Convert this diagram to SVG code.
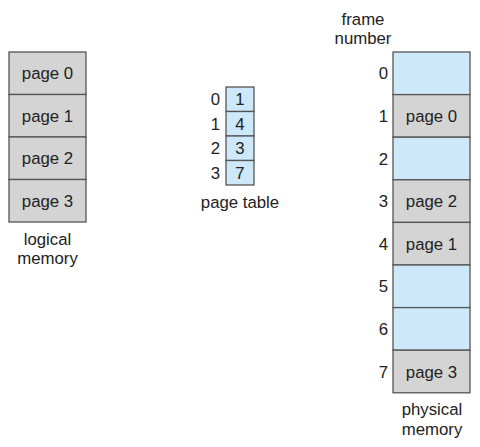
<svg xmlns="http://www.w3.org/2000/svg" width="480" height="447" viewBox="0 0 480 447">
<style>
text{font-family:"Liberation Sans",Arial,sans-serif;font-size:16.8px;fill:#222}
.c{text-anchor:middle}
.e{text-anchor:end}
.g{fill:#d4d4d4;stroke:#555;stroke-width:1.3}
.b{fill:#cde9f9;stroke:#555;stroke-width:1.3}
</style>
<rect width="480" height="447" fill="#fff"/>
<g id="logical-memory">
<rect class="g" x="9" y="52" width="77" height="42.5"/>
<rect class="g" x="9" y="94.5" width="77" height="42.5"/>
<rect class="g" x="9" y="137" width="77" height="42.5"/>
<rect class="g" x="9" y="179.5" width="77" height="42.5"/>
<text class="c" x="47.5" y="79">page 0</text>
<text class="c" x="47.5" y="121.5">page 1</text>
<text class="c" x="47.5" y="164">page 2</text>
<text class="c" x="47.5" y="206.5">page 3</text>
<text class="c" x="47.5" y="245">logical</text>
<text class="c" x="47.5" y="264">memory</text>
</g>
<g id="page-table">
<rect class="b" x="226" y="87" width="28" height="24.5"/>
<rect class="b" x="226" y="111.5" width="28" height="24.5"/>
<rect class="b" x="226" y="136" width="28" height="24.5"/>
<rect class="b" x="226" y="160.5" width="28" height="24.5"/>
<text class="c" x="240" y="105">1</text>
<text class="c" x="240" y="129.5">4</text>
<text class="c" x="240" y="154">3</text>
<text class="c" x="240" y="178.5">7</text>
<text class="e" x="220" y="105">0</text>
<text class="e" x="220" y="129.5">1</text>
<text class="e" x="220" y="154">2</text>
<text class="e" x="220" y="178.5">3</text>
<text class="c" x="240" y="208">page table</text>
</g>
<g id="physical-memory">
<rect class="b" x="393" y="52" width="77" height="42.6"/>
<rect class="g" x="393" y="94.6" width="77" height="42.6"/>
<rect class="b" x="393" y="137.2" width="77" height="42.6"/>
<rect class="g" x="393" y="179.8" width="77" height="42.6"/>
<rect class="g" x="393" y="222.4" width="77" height="42.6"/>
<rect class="b" x="393" y="265" width="77" height="42.6"/>
<rect class="b" x="393" y="307.6" width="77" height="42.6"/>
<rect class="g" x="393" y="350.2" width="77" height="42.6"/>
<text class="c" x="431.5" y="122">page 0</text>
<text class="c" x="431.5" y="207">page 2</text>
<text class="c" x="431.5" y="249.5">page 1</text>
<text class="c" x="431.5" y="377.5">page 3</text>
<text class="e" x="388" y="79">0</text>
<text class="e" x="388" y="122">1</text>
<text class="e" x="388" y="164.5">2</text>
<text class="e" x="388" y="207">3</text>
<text class="e" x="388" y="249.5">4</text>
<text class="e" x="388" y="292">5</text>
<text class="e" x="388" y="334.5">6</text>
<text class="e" x="388" y="377.5">7</text>
<text class="c" x="363" y="25">frame</text>
<text class="c" x="363" y="44">number</text>
<text class="c" x="432" y="415">physical</text>
<text class="c" x="432" y="435">memory</text>
</g>
</svg>
